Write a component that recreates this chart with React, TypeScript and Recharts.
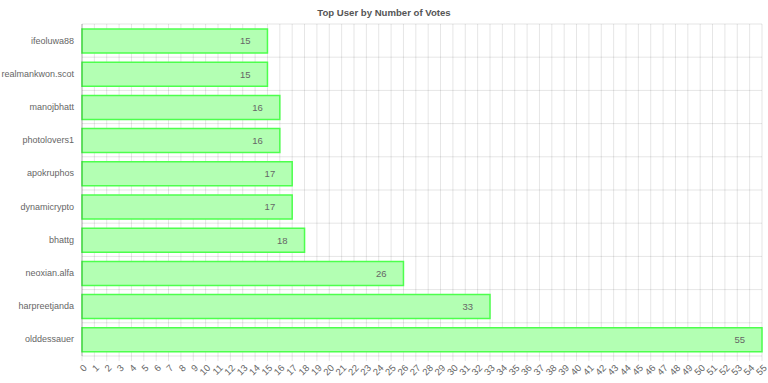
import { BarChart, Bar, XAxis, YAxis, CartesianGrid, LabelList } from "recharts";

const users = [
  "ifeoluwa88",
  "realmankwon.scot",
  "manojbhatt",
  "photolovers1",
  "apokruphos",
  "dynamicrypto",
  "bhattg",
  "neoxian.alfa",
  "harpreetjanda",
  "olddessauer",
];
const votes = [15, 15, 16, 16, 17, 17, 18, 26, 33, 55];
const xTicks = Array.from({ length: 56 }, (_, i) => i);

const data = users.map((user, i) => ({ user, votes: votes[i] }));

const FONT = "'Liberation Sans', Arial, Helvetica, sans-serif";

// rotated value labels under the axis
function SlantTick({ x, y, payload }: any) {
  return (
    <text
      x={x + 3}
      y={y + 3}
      transform={`rotate(-45, ${x + 3}, ${y + 3})`}
      textAnchor="end"
      dominantBaseline="central"
      fontSize={9.5}
      fontFamily={FONT}
      fill="#666"
    >
      {payload.value}
    </text>
  );
}

function UserTick({ x, y, payload }: any) {
  return (
    <text
      x={x}
      y={y}
      textAnchor="end"
      dominantBaseline="central"
      fontSize={9}
      fontFamily={FONT}
      fill="#666"
    >
      {payload.value}
    </text>
  );
}

export default function App() {
  return (
    <div style={{ position: "absolute", left: 0, top: 0, width: 768, height: 383, background: "#fff" }}>
      <div
        style={{
          position: "absolute",
          top: 7,
          width: 768,
          textAlign: "center",
          fontFamily: FONT,
          fontWeight: "bold",
          fontSize: 9.6,
          color: "#555",
        }}
      >
        Top User by Number of Votes
      </div>
      <BarChart
        width={768}
        height={383}
        data={data}
        layout="vertical"
        margin={{ top: 24, right: 6, bottom: 0, left: 0 }}
      >
        <CartesianGrid
          stroke="rgba(0,0,0,0.1)"
          horizontalCoordinatesGenerator={({ offset }: any) =>
            users.map((_, i) => offset.top + (i * offset.height) / users.length).concat(offset.top + offset.height)
          }
        />
        <XAxis
          type="number"
          domain={[0, 55]}
          ticks={xTicks}
          interval={0}
          height={27}
          axisLine={false}
          tickLine={{ stroke: "rgba(0,0,0,0.1)" }}
          tickSize={5}
          tick={<SlantTick />}
        />
        <YAxis
          type="category"
          dataKey="user"
          width={82}
          axisLine={{ stroke: "rgba(0,0,0,0.25)" }}
          tickLine={false}
          tick={<UserTick />}
        />
        <Bar
          dataKey="votes"
          barSize={24}
          fill="#b3ffb3"
          stroke="#4dff4d"
          strokeWidth={1.5}
          isAnimationActive={false}
        >
          <LabelList
            dataKey="votes"
            position="insideRight"
            offset={17}
            fontSize={9.5}
            fontFamily={FONT}
            fill="#666"
          />
        </Bar>
      </BarChart>
    </div>
  );
}
